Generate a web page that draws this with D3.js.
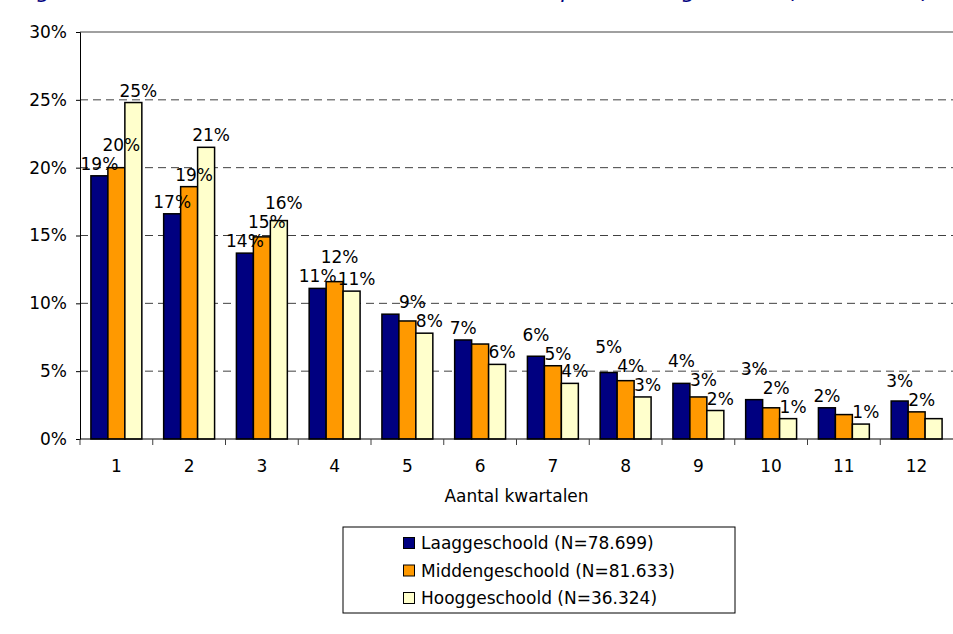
<!DOCTYPE html>
<html lang="nl">
<head>
  <meta charset="utf-8" />
  <title>Duur van de werkloosheid per scholingsniveau</title>
  <style>
    body {
      margin: 0;
      background: #ffffff;
      font-family: 'DejaVu Sans', Verdana, sans-serif;
    }
    svg { display: block; }
    .grid line { stroke: #404040; stroke-width: 1px; stroke-dasharray: 8,5; }
    .bar { stroke: #000000; stroke-width: 1.5px; }
    .value-label { font-size: 17px; fill: #000; text-anchor: middle; }
    .tick-label { font-size: 17px; fill: #000; }
  </style>
</head>
<body>
<div id="chart"></div>

<script src="https://d3js.org/d3.v7.min.js"></script>
<script>
// -----------------------------------------------------
// 1) Data (read from the reference picture)
// -----------------------------------------------------
const categories = ["1", "2", "3", "4", "5", "6", "7", "8", "9", "10", "11", "12"];

const seriesNames = [
  "Laaggeschoold (N=78.699)",
  "Middengeschoold (N=81.633)",
  "Hooggeschoold (N=36.324)"
];
const seriesColors = ["#000080", "#ff9900", "#ffffcc"];

// shares in percent
const laag   = [19.4, 16.6, 13.7, 11.1, 9.2, 7.3, 6.1, 4.9, 4.1, 2.9, 2.3, 2.8];
const midden = [20.0, 18.6, 14.9, 11.6, 8.7, 7.0, 5.4, 4.3, 3.1, 2.3, 1.8, 2.0];
const hoog   = [24.8, 21.5, 16.1, 10.9, 7.8, 5.5, 4.1, 3.1, 2.1, 1.5, 1.1, 1.5];

// value labels as printed in the chart (null = no label shown)
const laagLabels   = ["19%", "17%", "14%", "11%", null, "7%", "6%", "5%", "4%", "3%", "2%", "3%"];
const middenLabels = ["20%", "19%", "15%", "12%", "9%", null, "5%", "4%", "3%", "2%", null, "2%"];
const hoogLabels   = ["25%", "21%", "16%", "11%", "8%", "6%", "4%", "3%", "2%", "1%", "1%", null];

const yTicks = [0, 5, 10, 15, 20, 25, 30];

const titleText = "Figuur 6: Duur van de werkloosheid in kwartalen per scholingsniveau (N=196.656)";
const xTitle = "Aantal kwartalen";

const seriesValues = [laag, midden, hoog];
const seriesLabels = [laagLabels, middenLabels, hoogLabels];

// -----------------------------------------------------
// 2) Setup
// -----------------------------------------------------
const W = 953, H = 634;
const plot = { left: 80, right: 953, top: 32, bottom: 439 };

const svg = d3.select("#chart").append("svg")
    .attr("width", W)
    .attr("height", H);

const x = d3.scaleBand()
    .domain(categories)
    .range([plot.left, plot.right])
    .paddingInner(0.3)
    .paddingOuter(0.15);

const xSeries = d3.scaleBand()
    .domain(d3.range(seriesNames.length))
    .range([0, x.bandwidth()]);

const y = d3.scaleLinear()
    .domain([0, 30])
    .range([plot.bottom, plot.top]);

// title (mostly above the visible area, as in the source)
svg.append("text")
    .attr("x", 18)
    .attr("y", -2)
    .style("font-size", "22px")
    .style("font-style", "italic")
    .style("fill", "#000080")
    .text(titleText);

// -----------------------------------------------------
// 3) Grid and axes
// -----------------------------------------------------
svg.append("g")
    .attr("class", "grid")
  .selectAll("line")
  .data(yTicks.filter(t => t > 0 && t < 30))
  .join("line")
    .attr("x1", plot.left)
    .attr("x2", plot.right)
    .attr("y1", d => y(d))
    .attr("y2", d => y(d));

// top border of the plot area
svg.append("line")
    .attr("x1", plot.left).attr("x2", plot.right)
    .attr("y1", y(30)).attr("y2", y(30))
    .attr("stroke", "#808080")
    .attr("stroke-width", 1.5);

// bars
const groups = svg.append("g")
  .selectAll("g")
  .data(seriesValues)
  .join("g")
    .attr("fill", (d, i) => seriesColors[i]);

groups.each(function(values, si) {
  d3.select(this).selectAll("rect")
    .data(values)
    .join("rect")
      .attr("class", "bar")
      .attr("x", (d, ci) => x(categories[ci]) + xSeries(si))
      .attr("y", d => y(d))
      .attr("width", xSeries.bandwidth())
      .attr("height", d => y(0) - y(d));
});

// value labels: above each bar; inside a group the lowest bar keeps its
// label in place and labels of taller bars move up when they collide
const labelGap = 6, labelHeight = 17, inset = 1;
const labelLayer = svg.append("g");
categories.forEach((cat, ci) => {
  const items = seriesValues
    .map((values, si) => ({ si, v: values[ci], label: seriesLabels[si][ci] }))
    .filter(d => d.label)
    .sort((a, b) => a.v - b.v);
  const placed = [];
  items.forEach(d => {
    const cx = x(cat) + xSeries(d.si) + xSeries.bandwidth() / 2 + (d.si ? 5 : 0);
    const t = labelLayer.append("text")
        .attr("class", "value-label")
        .attr("x", cx)
        .attr("y", 0)
        .text(d.label);
    const box = t.node().getBBox();
    const x0 = box.x + inset, x1 = box.x + box.width - inset;
    let base = y(d.v) - labelGap;
    let moved = true;
    while (moved) {
      moved = false;
      placed.forEach(p => {
        const overlapX = x0 < p.x1 && x1 > p.x0;
        const overlapY = base - labelHeight < p.base && base > p.base - labelHeight;
        if (overlapX && overlapY) { base = p.base - labelHeight - 2; moved = true; }
      });
    }
    t.attr("y", base);
    placed.push({ x0, x1, base });
  });
});

// y axis
const yAxis = svg.append("g")
    .attr("transform", `translate(${plot.left},0)`)
    .call(d3.axisLeft(y).tickValues(yTicks).tickSize(4).tickFormat(d => d + "%"));
yAxis.select(".domain").attr("stroke", "#000");
yAxis.selectAll("line").attr("stroke", "#000");
yAxis.selectAll("text")
    .attr("class", "tick-label")
    .attr("x", -13)
    .style("font-family", "'DejaVu Sans', Verdana, sans-serif")
    .style("font-size", "17px");

// x axis: line, ticks at band boundaries, centred labels
svg.append("line")
    .attr("x1", plot.left).attr("x2", plot.right)
    .attr("y1", y(0)).attr("y2", y(0))
    .attr("stroke", "#000");

const step = x.step();
svg.append("g")
  .selectAll("line")
  .data(categories)
  .join("line")
    .attr("x1", d => x(d) - x.paddingOuter() * step)
    .attr("x2", d => x(d) - x.paddingOuter() * step)
    .attr("y1", y(0))
    .attr("y2", y(0) + 6)
    .attr("stroke", "#404040");

svg.append("g")
  .selectAll("text")
  .data(categories)
  .join("text")
    .attr("class", "tick-label")
    .attr("x", d => x(d) + x.bandwidth() / 2)
    .attr("y", y(0) + 33)
    .attr("text-anchor", "middle")
    .text(d => d);

svg.append("text")
    .attr("class", "tick-label")
    .attr("x", (plot.left + plot.right) / 2)
    .attr("y", 502)
    .attr("text-anchor", "middle")
    .text(xTitle);

// -----------------------------------------------------
// 4) Legend
// -----------------------------------------------------
const legend = svg.append("g").attr("transform", "translate(343,527)");
legend.append("rect")
    .attr("width", 392)
    .attr("height", 86)
    .attr("fill", "#fff")
    .attr("stroke", "#000");

const item = legend.selectAll("g.item")
  .data(seriesNames)
  .join("g")
    .attr("class", "item")
    .attr("transform", (d, i) => `translate(60,${16 + i * 27.5})`);

item.append("rect")
    .attr("x", 0.5)
    .attr("y", -5.5)
    .attr("width", 11)
    .attr("height", 11)
    .attr("fill", (d, i) => seriesColors[i])
    .attr("stroke", "#000");

item.append("text")
    .attr("class", "tick-label")
    .attr("x", 18)
    .attr("y", 6)
    .text(d => d);
</script>
</body>
</html>
